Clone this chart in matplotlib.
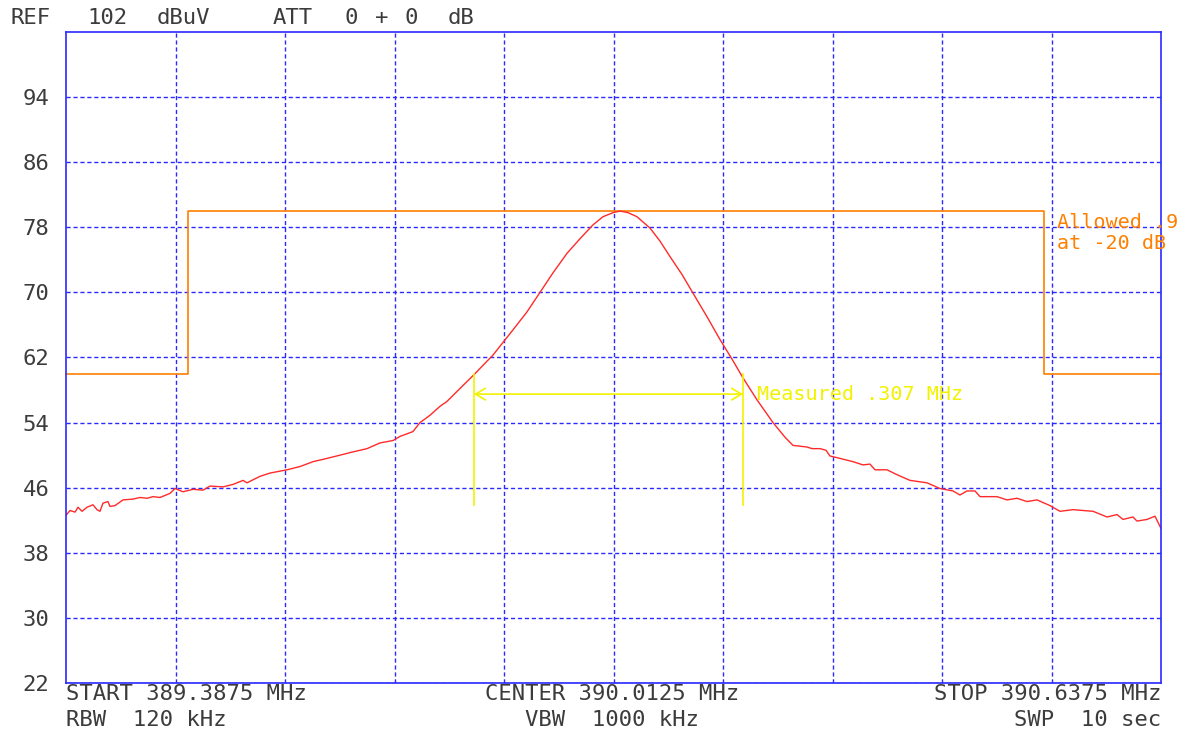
import matplotlib
matplotlib.use("Agg")
import matplotlib.pyplot as plt
import numpy as np

# sweep settings
start_mhz = 389.3875
stop_mhz = 390.6375
ref_db = 102
bottom_db = 22
ytick_vals = [94, 86, 78, 70, 62, 54, 46, 38, 30, 22]

# measured trace
freq_mhz = [
    389.3875, 389.3921, 389.3978, 389.4012, 389.4058, 389.4115, 389.4183, 389.4229,
    389.4263, 389.4297, 389.4354, 389.4377, 389.4434, 389.4526, 389.4640, 389.4720,
    389.4800, 389.4868, 389.4948, 389.5062, 389.5119, 389.5211, 389.5325, 389.5439,
    389.5519, 389.5667, 389.5781, 389.5896, 389.5941, 389.6090, 389.6204, 389.6398,
    389.6546, 389.6695, 389.6854, 389.7003, 389.7151, 389.7311, 389.7459, 389.7608,
    389.7688, 389.7836, 389.7916, 389.8030, 389.8144, 389.8224, 389.8373, 389.8533,
    389.8749, 389.8978, 389.9137, 389.9286, 389.9434, 389.9594, 389.9743, 389.9891,
    390.0005, 390.0120, 390.0199, 390.0291, 390.0393, 390.0542, 390.0656, 390.0770,
    390.0907, 390.1033, 390.1193, 390.1341, 390.1478, 390.1603, 390.1763, 390.1946,
    390.2083, 390.2174, 390.2334, 390.2391, 390.2482, 390.2551, 390.2596, 390.2711,
    390.2859, 390.2973, 390.3053, 390.3110, 390.3247, 390.3361, 390.3510, 390.3704,
    390.3852, 390.4001, 390.4080, 390.4160, 390.4252, 390.4309, 390.4503, 390.4617,
    390.4731, 390.4845, 390.4960, 390.5108, 390.5222, 390.5370, 390.5599, 390.5759,
    390.5873, 390.5941, 390.6055, 390.6101, 390.6215, 390.6306, 390.6375,
]
level_db = [
    42.6, 43.2, 43.0, 43.6, 43.1, 43.6, 43.9, 43.3,
    43.1, 44.1, 44.3, 43.7, 43.8, 44.5, 44.6, 44.8,
    44.7, 44.9, 44.8, 45.3, 45.9, 45.5, 45.8, 45.7,
    46.2, 46.1, 46.4, 46.9, 46.6, 47.4, 47.8, 48.2,
    48.6, 49.2, 49.6, 50.0, 50.4, 50.8, 51.5, 51.8,
    52.3, 52.9, 54.0, 54.9, 56.0, 56.6, 58.2, 59.9,
    62.3, 65.4, 67.6, 70.0, 72.4, 74.8, 76.6, 78.3,
    79.3, 79.8, 80.0, 79.8, 79.3, 77.9, 76.3, 74.4,
    72.2, 69.9, 67.0, 64.2, 61.8, 59.5, 56.8, 54.0,
    52.2, 51.2, 51.0, 50.8, 50.8, 50.6, 49.9, 49.6,
    49.2, 48.8, 48.9, 48.2, 48.2, 47.6, 46.9, 46.6,
    45.9, 45.6, 45.1, 45.6, 45.6, 44.9, 44.9, 44.5,
    44.7, 44.3, 44.5, 43.8, 43.1, 43.3, 43.1, 42.4,
    42.7, 42.1, 42.4, 41.9, 42.1, 42.5, 41.0,
]

# allowed-bandwidth mask
mask_freq = [389.3875, 389.5268, 389.5268, 390.5039, 390.5039, 390.6375]
mask_db = [60, 60, 80, 80, 60, 60]

# measured -20 dB bandwidth marker
meas_lo, meas_hi = 389.8533, 390.1603
meas_top, meas_bottom, meas_arrow = 60.0, 43.9, 57.5

W, H = 1196, 732
fig = plt.figure(figsize=(W / 100, H / 100), dpi=100)
fig.patch.set_facecolor("white")


def px(x, y):
    return x / W, 1 - y / H


x0, y0 = px(66, 683)
x1, y1 = px(1161, 32)
ax = fig.add_axes([x0, y0, x1 - x0, y1 - y0])

blue = "#2a2aff"
mono = "DejaVu Sans Mono"
txt_col = "#3c3c3c"

ax.set_xlim(start_mhz, stop_mhz)
ax.set_ylim(bottom_db, ref_db)
ax.set_xticks(np.linspace(start_mhz, stop_mhz, 11)[1:-1])
ax.set_xticklabels([])
ax.set_yticks(ytick_vals)
ax.set_yticklabels([str(v) for v in ytick_vals], family=mono, fontsize=16,
                   color=txt_col)
ax.tick_params(axis="both", length=0, pad=12)
ax.grid(True, color=blue, linestyle=(0, (3, 2)), linewidth=1.0)
ax.set_axisbelow(True)
for sp in ax.spines.values():
    sp.set_color(blue)
    sp.set_linewidth(1.2)

ax.plot(mask_freq, mask_db, color="#ff8000", lw=1.2, clip_on=False)
ax.plot(freq_mhz, level_db, color="#ff2a2a", lw=1.0)

yel = "#f2f200"
ax.plot([meas_lo, meas_lo], [meas_bottom, meas_top], color=yel, lw=1.2)
ax.plot([meas_hi, meas_hi], [meas_bottom, meas_top], color=yel, lw=1.2)
ax.annotate("", xy=(meas_lo, meas_arrow), xytext=(meas_hi, meas_arrow),
            arrowprops=dict(arrowstyle="<->,head_length=0.5,head_width=0.3",
                            color=yel, lw=1.2, shrinkA=0, shrinkB=0,
                            mutation_scale=14))

# header / footer text
def label(x, y, s, ha="left", color=txt_col, size=16):
    fx, fy = px(x, y)
    fig.text(fx, fy, s, ha=ha, va="center", family=mono, fontsize=size,
             color=color)


label(10, 18, "REF")
label(87, 18, "102")
label(157, 18, "dBuV")
label(273, 18, "ATT")
label(345, 18, "0")
label(375, 18, "+")
label(405, 18, "0")
label(448, 18, "dB")

label(66, 694, "START 389.3875 MHz")
label(612, 694, "CENTER 390.0125 MHz", ha="center")
label(1161, 694, "STOP 390.6375 MHz", ha="right")
label(66, 720, "RBW  120 kHz")
label(612, 720, "VBW  1000 kHz", ha="center")
label(1161, 720, "SWP  10 sec", ha="right")

label(757, 395, "Measured .307 MHz", color=yel, size=14.5)
label(1057, 222, "Allowed .9", color="#ff8000", size=14.5)
label(1057, 244, "at -20 dB", color="#ff8000", size=14.5)

fig.savefig("out.png", dpi=100, facecolor="white")
